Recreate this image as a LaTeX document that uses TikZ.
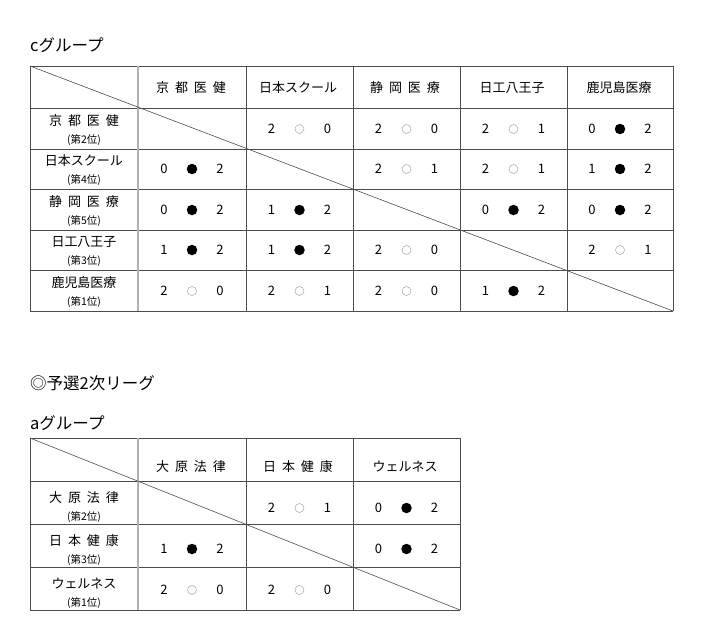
\documentclass[tikz,border=0pt]{standalone}
\usepackage{fontspec}
\newfontfamily\jp{Noto Sans CJK JP}
\newcommand\jsp{\hspace{0.45em}}
\begin{document}
\begin{tikzpicture}[x=1pt,y=-1pt,
  grid/.style={draw=black!70,line width=0.6pt},
  sep/.style={draw=black!30,line width=1.6pt},
  txt/.style={font=\jp\fontsize{13}{15}\selectfont,inner sep=0},
  rk/.style={font=\jp\fontsize{10.5}{12}\selectfont,inner sep=0},
  wc/.style={circle,draw=black!35,line width=0.5pt,minimum size=9pt,inner sep=0},
  bc/.style={circle,fill=black,minimum size=10.5pt,inner sep=0}]
\useasboundingbox (0,0) rectangle (705,638);
\newcommand\res[5]{%
  \node[txt] at (#1-28,#2) {#3};
  \ifx#4w\node[wc] at (#1,#2) {};\else\node[bc] at (#1,#2) {};\fi
  \node[txt] at (#1+28,#2) {#5};}
\newcommand\rowlab[4]{\node[txt] at (84,#1-8) {#3};\node[rk] at (84,#1+11) {(第#4位)};}
% titles
\node[txt,font=\jp\fontsize{16.5}{19}\selectfont,anchor=west] at (30,45) {cグループ};
\node[txt,font=\jp\fontsize{16.5}{19}\selectfont,anchor=west] at (30,383) {◎予選2次リーグ};
\node[txt,font=\jp\fontsize{16.5}{19}\selectfont,anchor=west] at (30,423) {aグループ};
% table 1 grid
\foreach \y in {66,108,149,189,230,270,311} \draw[grid] (30,\y) -- (673,\y);
\foreach \x in {30,246,353,460,567,673} \draw[grid] (\x,66) -- (\x,311);
\draw[sep] (138,66) -- (138,311);
\draw[grid] (30,66) -- (673,311);
\foreach \t [count=\i] in {京\jsp 都\jsp 医\jsp 健,日本スクール,静\jsp 岡\jsp 医\jsp 療,日工八王子,鹿児島医療}
  \node[txt] at ({84+107*\i},88) {\t};
\rowlab{129}{}{京\jsp 都\jsp 医\jsp 健}{2}
\rowlab{169}{}{日本スクール}{4}
\rowlab{210}{}{静\jsp 岡\jsp 医\jsp 療}{5}
\rowlab{250}{}{日工八王子}{3}
\rowlab{291}{}{鹿児島医療}{1}
\res{299.5}{129}{2}{w}{0}\res{406.5}{129}{2}{w}{0}\res{513.5}{129}{2}{w}{1}\res{620}{129}{0}{b}{2}
\res{192}{169}{0}{b}{2}\res{406.5}{169}{2}{w}{1}\res{513.5}{169}{2}{w}{1}\res{620}{169}{1}{b}{2}
\res{192}{210}{0}{b}{2}\res{299.5}{210}{1}{b}{2}\res{513.5}{210}{0}{b}{2}\res{620}{210}{0}{b}{2}
\res{192}{250}{1}{b}{2}\res{299.5}{250}{1}{b}{2}\res{406.5}{250}{2}{w}{0}\res{620}{250}{2}{w}{1}
\res{192}{291}{2}{w}{0}\res{299.5}{291}{2}{w}{1}\res{406.5}{291}{2}{w}{0}\res{513.5}{291}{1}{b}{2}
% table 2
\foreach \y in {438,481,524,567,610} \draw[grid] (30,\y) -- (460,\y);
\foreach \x in {30,246,353,460} \draw[grid] (\x,438) -- (\x,610);
\draw[sep] (138,438) -- (138,610);
\draw[grid] (30,438) -- (460,610);
\foreach \t [count=\i] in {大\jsp 原\jsp 法\jsp 律,日\jsp 本\jsp 健\jsp 康,ウェルネス}
  \node[txt] at ({84+107*\i},467) {\t};
\rowlab{506}{}{大\jsp 原\jsp 法\jsp 律}{2}
\rowlab{549}{}{日\jsp 本\jsp 健\jsp 康}{3}
\rowlab{592}{}{ウェルネス}{1}
\res{299.5}{508}{2}{w}{1}\res{406.5}{508}{0}{b}{2}
\res{192}{549}{1}{b}{2}\res{406.5}{549}{0}{b}{2}
\res{192}{590}{2}{w}{0}\res{299.5}{590}{2}{w}{0}
\end{tikzpicture}
\end{document}
